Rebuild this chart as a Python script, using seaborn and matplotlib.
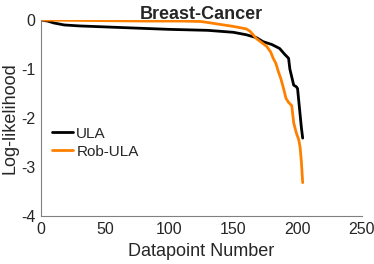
import numpy as np
import pandas as pd
import seaborn as sns
import matplotlib.pyplot as plt

# sorted per-datapoint log-likelihoods
ula_x = [0, 5, 10, 18, 30, 60, 100, 130, 150, 160, 168, 173, 180, 186, 190, 193, 194, 197, 199, 200, 203, 204]
ula_y = [0.0, -0.02, -0.06, -0.1, -0.12, -0.15, -0.19, -0.21, -0.25, -0.3, -0.36, -0.44, -0.5, -0.58, -0.7, -0.78, -1.0, -1.33, -1.36, -1.4, -2.2, -2.41]

rob_x = [0, 40, 80, 110, 125, 140, 150, 160, 163, 168, 176, 179, 181, 183, 185, 187, 189, 191, 193, 195.5, 197, 199, 201, 202, 203, 204]
rob_y = [0.0, -0.01, -0.02, -0.02, -0.03, -0.09, -0.13, -0.18, -0.23, -0.38, -0.54, -0.65, -0.78, -0.88, -1.05, -1.2, -1.39, -1.6, -1.68, -1.75, -2.1, -2.3, -2.45, -2.6, -2.9, -3.32]

df = pd.concat([
    pd.DataFrame({"x": ula_x, "y": ula_y, "method": "ULA"}),
    pd.DataFrame({"x": rob_x, "y": rob_y, "method": "Rob-ULA"}),
])

sns.set_style("white")
plt.rcParams["font.family"] = ["Liberation Sans", "DejaVu Sans"]

fig = plt.figure(figsize=(3.74, 2.64), dpi=100)
ax = fig.add_axes([0.11, 0.182, 0.857, 0.742])

sns.lineplot(data=df, x="x", y="y", hue="method", sort=False,
             palette={"ULA": "black", "Rob-ULA": "#ff8000"},
             linewidth=2.0, ax=ax, estimator=None)

ax.set_xlim(0, 250)
ax.set_ylim(-4, 0)
ax.set_xticks([0, 50, 100, 150, 200, 250])
ax.set_yticks([0, -1, -2, -3, -4])
ax.set_yticklabels(["0", "-1", "-2", "-3", "-4"])
sns.despine(ax=ax)
for s in ["left", "bottom"]:
    ax.spines[s].set_color("#808080")
    ax.spines[s].set_linewidth(0.8)
ax.tick_params(direction="in", length=4, width=0.8, color="#808080",
               labelsize=11.5, labelcolor="#262626", pad=4)
ax.set_xlabel("Datapoint Number", fontsize=13, color="#262626", labelpad=5)
ax.set_ylabel("Log-likelihood", fontsize=13, color="#262626", labelpad=2)
ax.set_title("Breast-Cancer", fontsize=13, fontweight="bold", pad=1)

leg = ax.legend(loc="upper left", bbox_to_anchor=(0.0, 0.51), frameon=False,
                fontsize=11, handlelength=1.4, handletextpad=0.2,
                labelspacing=0.25, borderaxespad=0.3)

fig.savefig("out.png", dpi=100)
